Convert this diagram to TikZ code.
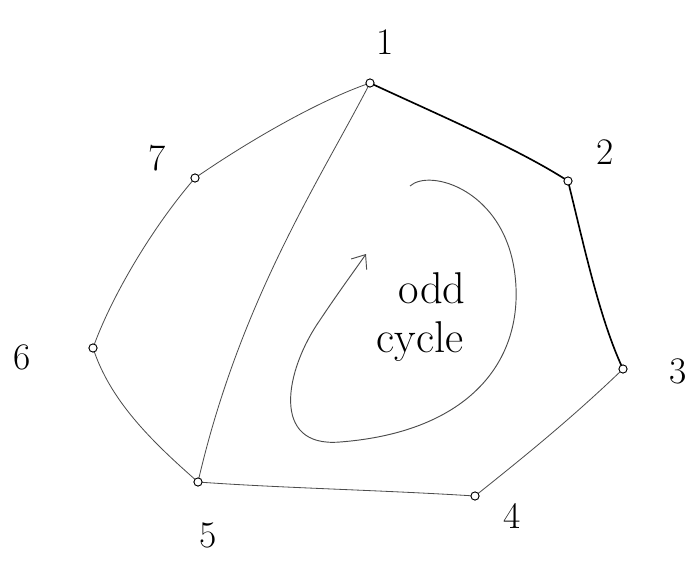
\documentclass[tikz,border=0pt]{standalone}
\usetikzlibrary{arrows.meta}
\begin{document}
\begin{tikzpicture}[x=0.03cm,y=-0.03cm,
  vtx/.style={circle,draw=black,line width=0.8pt,inner sep=0pt,minimum size=7pt,fill=white},
  lbl/.style={font=\fontsize{32}{34}\selectfont},
  thin edge/.style={draw=black!70,line width=0.7pt},
  thick edge/.style={draw=black,line width=1.4pt}]
\useasboundingbox (0,0) rectangle (691,561);
% vertices
\coordinate (p1) at (370,83);
\coordinate (p2) at (568,181);
\coordinate (p3) at (623,369);
\coordinate (p4) at (475,496);
\coordinate (p5) at (198,482);
\coordinate (p6) at (93,348);
\coordinate (p7) at (195,178);
% edges
\draw[thick edge] (p1) .. controls (450,120) and (520,150) .. (p2);
\draw[thick edge] (p2) .. controls (585,250) and (600,320) .. (p3);
\draw[thin edge] (p3) .. controls (570,420) and (520,460) .. (p4);
\draw[thin edge] (p4) .. controls (380,490) and (280,488) .. (p5);
\draw[thin edge] (p5) .. controls (150,440) and (110,400) .. (p6);
\draw[thin edge] (p6) .. controls (110,300) and (150,230) .. (p7);
\draw[thin edge] (p7) .. controls (250,140) and (320,100) .. (p1);
\draw[thin edge] (p1) .. controls (320,180) and (240,300) .. (p5);
% nodes
\node[vtx] (v1) at (p1) {};
\node[vtx] (v2) at (p2) {};
\node[vtx] (v3) at (p3) {};
\node[vtx] (v4) at (p4) {};
\node[vtx] (v5) at (p5) {};
\node[vtx] (v6) at (p6) {};
\node[vtx] (v7) at (p7) {};
% labels
\node[lbl] (l1) at (385,42) {1};
\node[lbl] (l2) at (605,152) {2};
\node[lbl] (l3) at (678,371) {3};
\node[lbl] (l4) at (512,516) {4};
\node[lbl] (l5) at (208,535) {5};
\node[lbl] (l6) at (22,357) {6};
\node[lbl] (l7) at (157,158) {7};
% odd cycle arrow
\coordinate (cs) at (410,186);
\coordinate (ce) at (366,254);
\draw[draw=black!70,line width=0.8pt,-{Straight Barb[length=10pt,width=16pt]}]
  (cs) .. controls (430,168) and (505,190) .. (515,275)
  .. controls (525,360) and (470,432) .. (340,442)
  .. controls (270,448) and (285,370) .. (320,320)
  .. controls (340,290) and (355,270) .. (ce);
\node[font=\fontsize{38}{40}\selectfont] (t1) at (432,288) {odd};
\node[font=\fontsize{38}{40}\selectfont] (t2) at (420,342) {cycle};
\end{tikzpicture}
\end{document}
